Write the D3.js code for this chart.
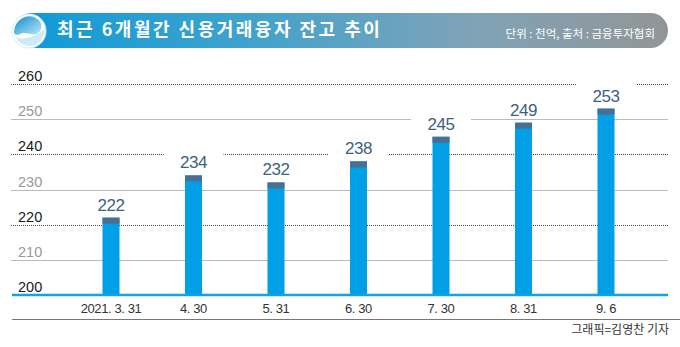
<!DOCTYPE html>
<html><head><meta charset="utf-8">
<script src="https://cdn.jsdelivr.net/npm/d3@7"></script>
<style>html,body{margin:0;padding:0;background:#fff;}svg{display:block;}</style>
</head><body>
<svg id="c" width="680" height="347"></svg>
<script>
const categories = ["2021. 3. 31","4. 30","5. 31","6. 30","7. 30","8. 31","9. 6"];
const values = [222,234,232,238,245,249,253];
const yTicks = [200,210,220,230,240,250,260];
const title = "최근 6개월간 신용거래융자 잔고 추이";
const unitText = "단위 : 천억, 출처 : 금융투자협회";
const credit = "그래픽=김영찬 기자";

const svg = d3.select("#c");
const font = "'Liberation Sans','Noto Sans CJK KR',Arial,sans-serif";
const kfont = "'Noto Sans CJK KR','Noto Sans',sans-serif";

const defs = svg.append("defs");
const g1 = defs.append("linearGradient").attr("id","hdr").attr("x1","0").attr("x2","1");
g1.append("stop").attr("offset","0").attr("stop-color","#0d9ad8");
g1.append("stop").attr("offset","0.35").attr("stop-color","#3fa2cc");
g1.append("stop").attr("offset","0.7").attr("stop-color","#7fa3b7");
g1.append("stop").attr("offset","1").attr("stop-color","#929597");
const g2 = defs.append("linearGradient").attr("id","logo").attr("x1","0").attr("y1","0").attr("x2","1").attr("y2","1");
g2.append("stop").attr("offset","0").attr("stop-color","#0a8fd0");
g2.append("stop").attr("offset","1").attr("stop-color","#bfe6f7");

// header
svg.append("rect").attr("x",14).attr("y",13).attr("width",654).attr("height",35)
  .attr("rx",17.5).attr("fill","url(#hdr)");
svg.append("circle").attr("cx",29).attr("cy",31).attr("r",17).attr("fill","#fff").attr("stroke","#d6eef8").attr("stroke-width",1);
svg.append("path")
  .attr("d","M14,33 C14,20 26,14 34,17 C42,20 44,29 38,33 C33,37 26,31 20,34 C17,35.5 15,35 14,33 Z")
  .attr("fill","url(#logo)");
svg.append("path")
  .attr("d","M44,29 C45,40 36,47 28,46 C22,45 17,41 16,37 C22,40 28,38 33,36 C38,34 42,32 44,29 Z")
  .attr("fill","#cdeaf7");
svg.append("text").attr("x",57).attr("y",36).text(title)
  .attr("font-family",kfont).attr("font-weight","bold").attr("font-size",18)
  .attr("letter-spacing",2.5).attr("fill","#fff");
svg.append("text").attr("x",655).attr("y",38).attr("text-anchor","end").text(unitText)
  .attr("font-family",kfont).attr("font-size",11.5).attr("fill","#fff");

// scales
const y = d3.scaleLinear().domain([200,260]).range([295,84]);
const x = d3.scalePoint().domain(categories).range([111,606]);
const bw = 17;

// gridlines
const grid = svg.append("g");
yTicks.filter(t=>t>200).forEach(t=>{
  const dark = (t % 20 === 0);
  grid.append("line").attr("x1",11).attr("x2",668).attr("y1",Math.round(y(t))+0.5).attr("y2",Math.round(y(t))+0.5)
    .attr("stroke",dark?"#444":"#bbb").attr("stroke-width",1)
    .attr("stroke-dasharray",dark?"1,1":null);
});
// y labels
svg.append("g").selectAll("text").data(yTicks).join("text")
  .attr("x",18).attr("y",t=>y(t)-3).text(t=>t)
  .attr("font-family",font).attr("font-size",14.5)
  .attr("fill",t=>t%20===0?"#1a1a1a":"#999");

// label backgrounds (gaps in gridlines)
svg.append("g").selectAll("rect").data(values).join("rect")
  .attr("x",(d,i)=>x(categories[i])-30).attr("width",60)
  .attr("y",d=>y(d)-26).attr("height",21).attr("fill","#fff");

// bars
const bars = svg.append("g");
bars.selectAll("rect.b").data(values).join("rect").attr("class","b")
  .attr("x",(d,i)=>x(categories[i])-bw/2).attr("width",bw)
  .attr("y",d=>y(d)).attr("height",d=>y(200)-y(d)).attr("fill","#009fe6");
bars.selectAll("rect.cap").data(values).join("rect").attr("class","cap")
  .attr("x",(d,i)=>x(categories[i])-bw/2).attr("width",bw)
  .attr("y",d=>y(d)).attr("height",6).attr("fill","#4a6f90");
bars.selectAll("text").data(values).join("text")
  .attr("x",(d,i)=>x(categories[i])).attr("y",d=>y(d)-7).attr("text-anchor","middle")
  .text(d=>d).attr("font-family",font).attr("font-size",17).attr("letter-spacing",-0.5)
  .attr("fill","#3e5f80");

// baseline
svg.append("line").attr("x1",12).attr("x2",668).attr("y1",295).attr("y2",295)
  .attr("stroke","#14a2e2").attr("stroke-width",2.5);

// x axis labels
svg.append("g").selectAll("text").data(categories).join("text")
  .attr("x",d=>x(d)).attr("y",313).attr("text-anchor","middle").text(d=>d)
  .attr("font-family",font).attr("font-size",13).attr("letter-spacing",-0.4).attr("fill","#333");

// bottom line & credit
svg.append("line").attr("x1",12).attr("x2",680).attr("y1",319.5).attr("y2",319.5)
  .attr("stroke","#777").attr("stroke-width",1);
svg.append("text").attr("x",669).attr("y",334).attr("text-anchor","end").text(credit)
  .attr("font-family",kfont).attr("font-size",12).attr("fill","#333");
</script>
</body></html>
